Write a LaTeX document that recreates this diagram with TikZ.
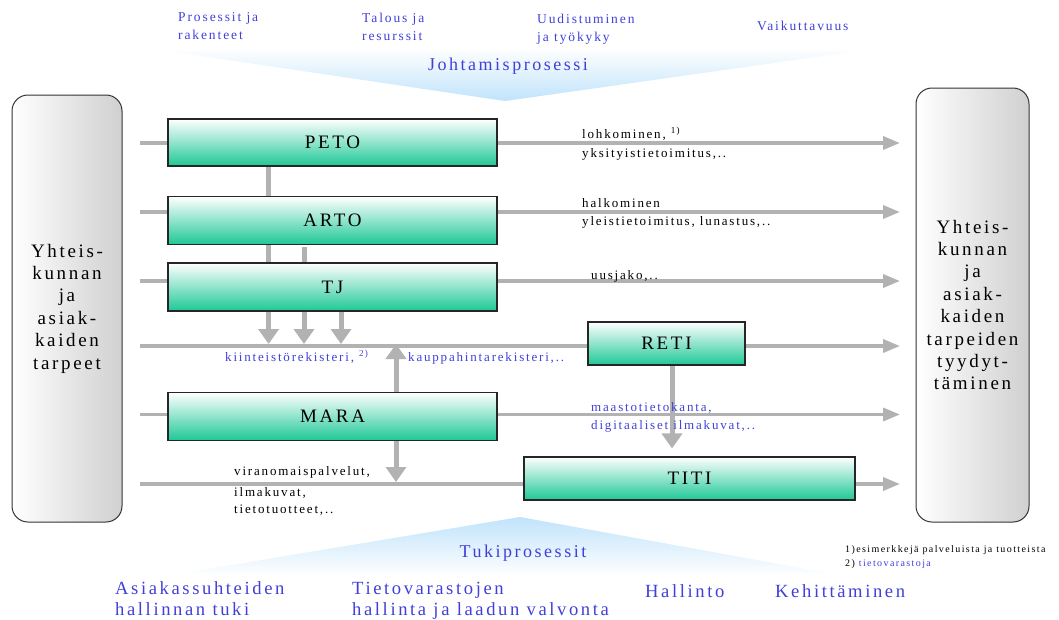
\documentclass[tikz,border=0pt]{standalone}
\usepackage{fontspec}
\setmainfont{Liberation Serif}
\newfontfamily\lsfont[LetterSpace=14]{Liberation Serif}
\usetikzlibrary{arrows.meta}

\definecolor{txtblue}{RGB}{64,64,216}
\definecolor{flowgray}{RGB}{178,178,178}
\definecolor{boxgreen}{RGB}{30,200,150}
\definecolor{skyblue}{RGB}{192,227,251}
\definecolor{sidegray}{RGB}{208,208,208}

\begin{document}
\begin{tikzpicture}[x=1pt,y=-1pt,
  proc/.style={draw=black!85, line width=1.1pt, top color=white, bottom color=boxgreen,
    inner sep=0pt, font=\lsfont\fontsize{19}{22}\selectfont},
  side/.style={draw=black!80, line width=1pt, rounded corners=16pt, left color=white,
    right color=sidegray, inner sep=0pt, align=center, minimum width=110pt,
    font=\lsfont\fontsize{19}{22.4}\selectfont},
  flow/.style={draw=flowgray, line width=3.5pt},
  flowarrow/.style={flow, -{Triangle[length=17pt,width=13pt]}},
  vflow/.style={draw=flowgray, line width=5pt},
  varrow/.style={vflow, -{Triangle[length=15pt,width=20pt]}},
  lbl/.style={anchor=base west, inner sep=0pt, font=\lsfont\fontsize{13}{15}\selectfont},
  toplbl/.style={anchor=base west, inner sep=0pt, text=txtblue, font=\lsfont\fontsize{13.5}{15}\selectfont},
  biglbl/.style={anchor=base west, inner sep=0pt, text=txtblue, font=\lsfont\fontsize{18.6}{22}\selectfont},
  title/.style={inner sep=0pt, text=txtblue, font=\lsfont\fontsize{18}{20}\selectfont},
  note/.style={anchor=base west, inner sep=0pt, font=\lsfont\fontsize{10}{12}\selectfont}
]
\useasboundingbox (0,0) rectangle (1059,619);

% management and support process wedges
\shade[top color=white, bottom color=skyblue] (147,48) -- (880,48) -- (505,101) -- cycle;
\shade[top color=skyblue, bottom color=white] (520,517) -- (845,576) -- (165,576) -- cycle;

% customer needs on the left, their fulfilment on the right
\node[side, minimum height=427pt] (needs) at (67,308.5)
  {Yhteis-\\kunnan\\ja\\asiak-\\kaiden\\tarpeet};
\node[side, minimum width=113pt, minimum height=434pt] (done) at (972.5,305)
  {Yhteis-\\kunnan\\ja\\asiak-\\kaiden\\tarpeiden\\tyydyt-\\täminen};

% flow entry and exit points
\coordinate (pIn) at (140,143);   \coordinate (pOut) at (900,143);
\coordinate (aIn) at (140,212);   \coordinate (aOut) at (900,212);
\coordinate (tIn) at (140,281);   \coordinate (tOut) at (900,281);
\coordinate (rIn) at (140,346);   \coordinate (rOut) at (900,346);
\coordinate (mIn) at (140,414.5); \coordinate (mOut) at (900,414.5);
\coordinate (iIn) at (140,484);   \coordinate (iOut) at (900,484);
\coordinate (c1) at (268.6,0);
\coordinate (c2) at (304,0);
\coordinate (c3) at (341,0);
\coordinate (c4) at (396,0);
\coordinate (c5) at (672,0);
\coordinate (regTop) at (0,344);
\coordinate (titiTop) at (0,482);

% process boxes
\node[proc, minimum width=329pt, minimum height=47pt] (PETO) at (332.5,142.5) {PETO};
\node[proc, minimum width=329pt, minimum height=48pt] (ARTO) at (332.5,220.5) {ARTO};
\node[proc, minimum width=329pt, minimum height=48pt] (TJ)   at (332.5,287)   {TJ};
\node[proc, minimum width=329pt, minimum height=48pt] (MARA) at (332.5,416.5) {MARA};
\node[proc, minimum width=157pt, minimum height=43pt] (RETI) at (666.5,343.5) {RETI};
\node[proc, minimum width=331pt, minimum height=43pt] (TITI) at (689.5,478.5) {TITI};

% horizontal process flows
\draw[flow] (pIn) -- (pIn -| PETO.west);
\draw[flowarrow] (pIn -| PETO.east) -- (pOut);
\draw[flow] (aIn) -- (aIn -| ARTO.west);
\draw[flowarrow] (aIn -| ARTO.east) -- (aOut);
\draw[flow] (tIn) -- (tIn -| TJ.west);
\draw[flowarrow] (tIn -| TJ.east) -- (tOut);
\draw[flow] (rIn) -- (rIn -| RETI.west);
\draw[flowarrow] (rIn -| RETI.east) -- (rOut);
\draw[flow] (mIn) -- (mIn -| MARA.west);
\draw[flowarrow] (mIn -| MARA.east) -- (mOut);
\draw[flow] (iIn) -- (iIn -| TITI.west);
\draw[flowarrow] (iIn -| TITI.east) -- (iOut);

% links between processes
\draw[vflow] (PETO.south -| c1) -- (ARTO.north -| c1);
\draw[vflow] (ARTO.south -| c1) -- (TJ.north -| c1);
\draw[vflow] ([yshift=-2pt]ARTO.south -| c2) -- (TJ.north -| c2);
\draw[varrow] (TJ.south -| c1) -- (c1 |- regTop);
\draw[varrow] (TJ.south -| c2) -- (c2 |- regTop);
\draw[varrow] (TJ.south -| c3) -- (c3 |- regTop);
\draw[varrow] (MARA.north -| c4) -- (c4 |- regTop);
\draw[varrow] (MARA.south -| c4) -- (c4 |- titiTop);
\draw[varrow] (RETI.south -| c5) -- ([yshift=8pt]TITI.north -| c5);

% service and product labels
\node[lbl] (l1) at (582,138) {lohkominen, \textsuperscript{1)}};
\node[lbl] (l2) at (582,157) {yksityistietoimitus,..};
\node[lbl] (l3) at (582,207) {halkominen};
\node[lbl] (l4) at (582,225) {yleistietoimitus, lunastus,..};
\node[lbl] (l5) at (591,279) {uusjako,..};
\node[lbl, text=txtblue] (l6) at (225,361) {kiinteistörekisteri, \textsuperscript{2)}};
\node[lbl, text=txtblue] (l7) at (408,361) {kauppahintarekisteri,..};
\node[lbl, text=txtblue] (l8) at (591,411) {maastotietokanta,};
\node[lbl, text=txtblue] (l9) at (591,429) {digitaaliset ilmakuvat,..};
\node[lbl] (l10) at (234,475) {viranomaispalvelut,};
\node[lbl] (l11) at (234,496) {ilmakuvat,};
\node[lbl] (l12) at (234,513) {tietotuotteet,..};

% management process
\node[toplbl] (m1a) at (178,21) {Prosessit ja};
\node[toplbl] (m1b) at (178,39) {rakenteet};
\node[toplbl] (m2a) at (362,22) {Talous ja};
\node[toplbl] (m2b) at (362,40) {resurssit};
\node[toplbl] (m3a) at (537,23) {Uudistuminen};
\node[toplbl] (m3b) at (537,41) {ja työkyky};
\node[toplbl] (m4) at (757,30) {Vaikuttavuus};
\node[title] (mgmt) at (508,66) {Johtamisprosessi};

% support processes
\node[title] (supp) at (523,553) {Tukiprosessit};
\node[biglbl] (s1a) at (115,594) {Asiakassuhteiden};
\node[biglbl] (s1b) at (115,615) {hallinnan tuki};
\node[biglbl] (s2a) at (352,594) {Tietovarastojen};
\node[biglbl] (s2b) at (352,615) {hallinta ja laadun valvonta};
\node[biglbl] (s3) at (645,597) {Hallinto};
\node[biglbl] (s4) at (775,597) {Kehittäminen};

% footnotes
\node[note] (n1) at (845,552) {1)esimerkkejä palveluista ja tuotteista};
\node[note] (n2) at (845,566) {2) \textcolor{txtblue}{tietovarastoja}};
\end{tikzpicture}
\end{document}
